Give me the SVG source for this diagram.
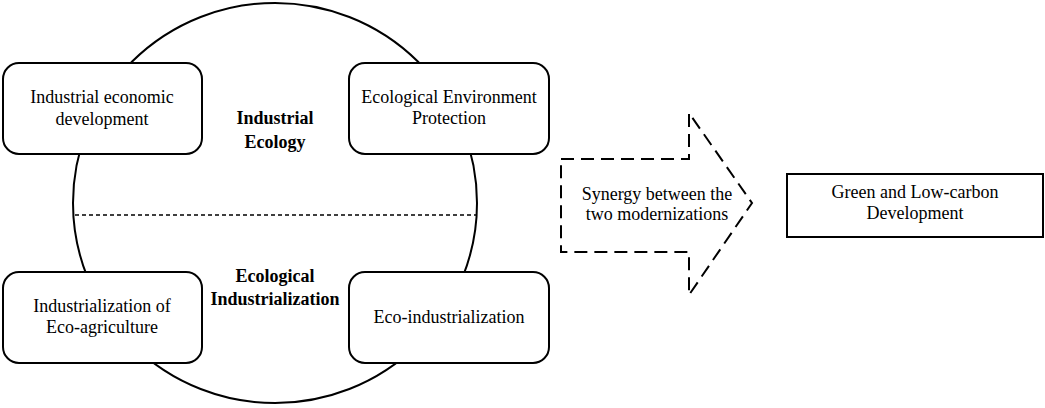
<svg xmlns="http://www.w3.org/2000/svg" width="1045" height="408" viewBox="0 0 1045 408">
<style>
text{font-family:'Liberation Serif','DejaVu Serif',serif;font-size:18px;fill:#000;text-anchor:middle}
.b{font-weight:bold}
.box{fill:#fff;stroke:#000;stroke-width:2}
</style>
<rect width="1045" height="408" fill="#fff"/>
<g id="circle">
<ellipse cx="275" cy="203" rx="202" ry="200" fill="none" stroke="#000" stroke-width="2"/>
<line x1="75" y1="215" x2="476" y2="215" stroke="#000" stroke-width="1.5" stroke-dasharray="4,3"/>
</g>
<g id="label-ie">
<text class="b" x="275" y="124">Industrial</text>
<text class="b" x="275" y="148">Ecology</text>
</g>
<g id="label-ei">
<text class="b" x="275" y="282">Ecological</text>
<text class="b" x="275" y="305">Industrialization</text>
</g>
<g id="n1">
<rect class="box" x="3" y="63" width="199" height="91" rx="16"/>
<text x="102" y="103">Industrial economic</text>
<text x="102" y="125">development</text>
</g>
<g id="n2">
<rect class="box" x="349" y="63" width="200" height="91" rx="16"/>
<text x="449" y="103">Ecological Environment</text>
<text x="449" y="124">Protection</text>
</g>
<g id="n3">
<rect class="box" x="3" y="272" width="199" height="91" rx="16"/>
<text x="102" y="312">Industrialization of</text>
<text x="102" y="333">Eco-agriculture</text>
</g>
<g id="n4">
<rect class="box" x="349" y="272" width="200" height="91" rx="16"/>
<text x="449" y="323">Eco-industrialization</text>
</g>
<g id="connectors">
<path d="M561,159 L689,159 L689,113 L752,203 L689,295 L689,252 L561,252 Z" fill="none" stroke="#000" stroke-width="2" stroke-dasharray="13,7"/>
</g>
<g id="arrow-label">
<text x="657" y="200">Synergy between the</text>
<text x="657" y="220">two modernizations</text>
</g>
<g id="n5">
<rect x="787" y="174" width="256" height="63" fill="#fff" stroke="#000" stroke-width="2"/>
<text x="915" y="198">Green and Low-carbon</text>
<text x="915" y="219">Development</text>
</g>
</svg>
